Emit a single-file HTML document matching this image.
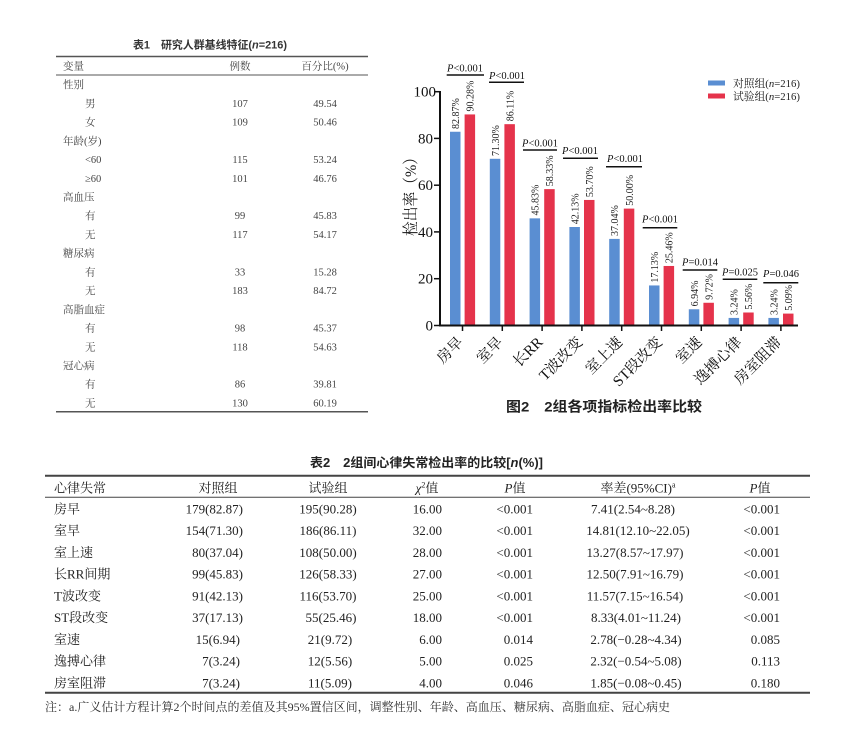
<!DOCTYPE html>
<html><head><meta charset="utf-8">
<style>
html,body{margin:0;padding:0;background:#fff;}
svg{display:block;}
.s{font-family:"Liberation Serif","Noto Serif CJK SC",serif;}
.h{font-family:"Liberation Sans","Noto Sans CJK SC",sans-serif;font-weight:bold;}
</style></head>
<body>
<svg width="861" height="755" viewBox="0 0 861 755" xmlns="http://www.w3.org/2000/svg">
<rect width="861" height="755" fill="#fff"/>

<!-- ========== TABLE 1 ========== -->
<text class="h" x="133" y="48.5" font-size="11" fill="#333" textLength="154" lengthAdjust="spacingAndGlyphs">表1　研究人群基线特征(<tspan font-style="italic">n</tspan>=216)</text>
<line x1="56" y1="56.5" x2="368" y2="56.5" stroke="#555" stroke-width="1.5"/>
<line x1="56" y1="75" x2="368" y2="75" stroke="#555" stroke-width="1"/>
<line x1="56" y1="411.7" x2="368" y2="411.7" stroke="#555" stroke-width="1.5"/>
<g class="s" font-size="10.5" fill="#444">
<text x="63" y="69.5">变量</text>
<text x="240" y="69.5" text-anchor="middle">例数</text>
<text x="325" y="69.5" text-anchor="middle">百分比(%)</text>

<text x="63" y="88.2">性别</text>
<text x="85" y="106.9">男</text><text x="240" y="106.9" text-anchor="middle">107</text><text x="325" y="106.9" text-anchor="middle">49.54</text>
<text x="85" y="125.6">女</text><text x="240" y="125.6" text-anchor="middle">109</text><text x="325" y="125.6" text-anchor="middle">50.46</text>
<text x="63" y="144.4">年龄(岁)</text>
<text x="85" y="163.1">&lt;60</text><text x="240" y="163.1" text-anchor="middle">115</text><text x="325" y="163.1" text-anchor="middle">53.24</text>
<text x="85" y="181.8">≥60</text><text x="240" y="181.8" text-anchor="middle">101</text><text x="325" y="181.8" text-anchor="middle">46.76</text>
<text x="63" y="200.5">高血压</text>
<text x="85" y="219.2">有</text><text x="240" y="219.2" text-anchor="middle">99</text><text x="325" y="219.2" text-anchor="middle">45.83</text>
<text x="85" y="238.0">无</text><text x="240" y="238.0" text-anchor="middle">117</text><text x="325" y="238.0" text-anchor="middle">54.17</text>
<text x="63" y="256.7">糖尿病</text>
<text x="85" y="275.4">有</text><text x="240" y="275.4" text-anchor="middle">33</text><text x="325" y="275.4" text-anchor="middle">15.28</text>
<text x="85" y="294.1">无</text><text x="240" y="294.1" text-anchor="middle">183</text><text x="325" y="294.1" text-anchor="middle">84.72</text>
<text x="63" y="312.8">高脂血症</text>
<text x="85" y="331.6">有</text><text x="240" y="331.6" text-anchor="middle">98</text><text x="325" y="331.6" text-anchor="middle">45.37</text>
<text x="85" y="350.3">无</text><text x="240" y="350.3" text-anchor="middle">118</text><text x="325" y="350.3" text-anchor="middle">54.63</text>
<text x="63" y="369.0">冠心病</text>
<text x="85" y="387.7">有</text><text x="240" y="387.7" text-anchor="middle">86</text><text x="325" y="387.7" text-anchor="middle">39.81</text>
<text x="85" y="406.4">无</text><text x="240" y="406.4" text-anchor="middle">130</text><text x="325" y="406.4" text-anchor="middle">60.19</text>
</g>

<!-- ========== CHART ========== -->
<!-- bars -->
<g fill="#5a8ed2">
<rect x="450" y="131.75" width="10.5" height="193.75"/>
<rect x="489.8" y="158.8" width="10.5" height="166.7"/>
<rect x="529.6" y="218.35" width="10.5" height="107.15"/>
<rect x="569.4" y="227.0" width="10.5" height="98.5"/>
<rect x="609.2" y="238.9" width="10.5" height="86.6"/>
<rect x="649.0" y="285.45" width="10.5" height="40.05"/>
<rect x="688.8" y="309.27" width="10.5" height="16.23"/>
<rect x="728.6" y="317.92" width="10.5" height="7.58"/>
<rect x="768.4" y="317.92" width="10.5" height="7.58"/>
</g>
<g fill="#e5334b">
<rect x="464.6" y="114.43" width="10.5" height="211.07"/>
<rect x="504.4" y="124.17" width="10.5" height="201.33"/>
<rect x="544.2" y="189.12" width="10.5" height="136.38"/>
<rect x="584.0" y="199.95" width="10.5" height="125.55"/>
<rect x="623.8" y="208.6" width="10.5" height="116.9"/>
<rect x="663.6" y="265.97" width="10.5" height="59.53"/>
<rect x="703.4" y="302.77" width="10.5" height="22.73"/>
<rect x="743.2" y="312.5" width="10.5" height="13.0"/>
<rect x="783.0" y="313.6" width="10.5" height="11.9"/>
</g>

<!-- value labels -->
<g class="s" font-size="10" fill="#222">
<text transform="translate(459,129) rotate(-90)">82.87%</text>
<text transform="translate(473.6,111.5) rotate(-90)">90.28%</text>
<text transform="translate(498.8,156) rotate(-90)">71.30%</text>
<text transform="translate(513.4,121.3) rotate(-90)">86.11%</text>
<text transform="translate(538.6,215.5) rotate(-90)">45.83%</text>
<text transform="translate(553.2,186.3) rotate(-90)">58.33%</text>
<text transform="translate(578.4,224.2) rotate(-90)">42.13%</text>
<text transform="translate(593.0,197.1) rotate(-90)">53.70%</text>
<text transform="translate(618.2,236) rotate(-90)">37.04%</text>
<text transform="translate(632.8,205.8) rotate(-90)">50.00%</text>
<text transform="translate(658.0,282.6) rotate(-90)">17.13%</text>
<text transform="translate(672.6,263.1) rotate(-90)">25.46%</text>
<text transform="translate(697.8,306.4) rotate(-90)">6.94%</text>
<text transform="translate(712.4,299.9) rotate(-90)">9.72%</text>
<text transform="translate(737.6,315) rotate(-90)">3.24%</text>
<text transform="translate(752.2,309.6) rotate(-90)">5.56%</text>
<text transform="translate(777.4,315) rotate(-90)">3.24%</text>
<text transform="translate(792.0,310.7) rotate(-90)">5.09%</text>
</g>

<!-- significance annotations -->
<g stroke="#111" stroke-width="1.5">
<line x1="446.7" y1="75" x2="484" y2="75"/>
<line x1="489" y1="82.3" x2="524" y2="82.3"/>
<line x1="523" y1="150" x2="557" y2="150"/>
<line x1="563" y1="158.3" x2="598" y2="158.3"/>
<line x1="606" y1="166.7" x2="642" y2="166.7"/>
<line x1="642.7" y1="227.7" x2="677.3" y2="227.7"/>
<line x1="682.7" y1="270" x2="717.3" y2="270"/>
<line x1="722.7" y1="279.3" x2="757.3" y2="279.3"/>
<line x1="763.3" y1="282.7" x2="798.3" y2="282.7"/>
</g>
<g class="s" font-size="10.5" fill="#111" text-anchor="middle">
<text x="465" y="71.5"><tspan font-style="italic">P</tspan>&lt;0.001</text>
<text x="507" y="79"><tspan font-style="italic">P</tspan>&lt;0.001</text>
<text x="540" y="146.5"><tspan font-style="italic">P</tspan>&lt;0.001</text>
<text x="580" y="154"><tspan font-style="italic">P</tspan>&lt;0.001</text>
<text x="625" y="162"><tspan font-style="italic">P</tspan>&lt;0.001</text>
<text x="660" y="222.5"><tspan font-style="italic">P</tspan>&lt;0.001</text>
<text x="700" y="265.5"><tspan font-style="italic">P</tspan>=0.014</text>
<text x="740" y="275.5"><tspan font-style="italic">P</tspan>=0.025</text>
<text x="781" y="277"><tspan font-style="italic">P</tspan>=0.046</text>
</g>

<!-- axes -->
<line x1="440" y1="91" x2="440" y2="326.5" stroke="#111" stroke-width="2"/>
<line x1="439" y1="325.5" x2="798" y2="325.5" stroke="#111" stroke-width="2"/>
<g stroke="#111" stroke-width="1.5">
<line x1="434" y1="325.5" x2="440" y2="325.5"/>
<line x1="434" y1="278.7" x2="440" y2="278.7"/>
<line x1="434" y1="231.9" x2="440" y2="231.9"/>
<line x1="434" y1="185.2" x2="440" y2="185.2"/>
<line x1="434" y1="138.4" x2="440" y2="138.4"/>
<line x1="434" y1="91.7" x2="440" y2="91.7"/>
<line x1="462.5" y1="325.5" x2="462.5" y2="331"/>
<line x1="502.3" y1="325.5" x2="502.3" y2="331"/>
<line x1="542.1" y1="325.5" x2="542.1" y2="331"/>
<line x1="581.9" y1="325.5" x2="581.9" y2="331"/>
<line x1="621.7" y1="325.5" x2="621.7" y2="331"/>
<line x1="661.5" y1="325.5" x2="661.5" y2="331"/>
<line x1="701.3" y1="325.5" x2="701.3" y2="331"/>
<line x1="741.1" y1="325.5" x2="741.1" y2="331"/>
<line x1="780.9" y1="325.5" x2="780.9" y2="331"/>
</g>
<g class="s" font-size="15" fill="#111" text-anchor="end">
<text x="433" y="330.5">0</text>
<text x="433" y="283.7">20</text>
<text x="433" y="236.9">40</text>
<text x="433" y="190.2">60</text>
<text x="433" y="143.4">80</text>
<text x="436" y="96.7">100</text>
</g>
<text class="s" font-size="16" fill="#111" text-anchor="middle" transform="translate(416,193) rotate(-90)" textLength="86" lengthAdjust="spacingAndGlyphs">检出率（%）</text>

<!-- x labels -->
<g class="s" font-size="15" fill="#111" text-anchor="end">
<text transform="translate(464,343) rotate(-45)">房早</text>
<text transform="translate(503.8,343) rotate(-45)">室早</text>
<text transform="translate(543.6,343) rotate(-45)">长RR</text>
<text transform="translate(583.4,343) rotate(-45)">T波改变</text>
<text transform="translate(623.2,343) rotate(-45)">室上速</text>
<text transform="translate(663,343) rotate(-45)">ST段改变</text>
<text transform="translate(702.8,343) rotate(-45)">室速</text>
<text transform="translate(742.6,343) rotate(-45)">逸搏心律</text>
<text transform="translate(782.4,343) rotate(-45)">房室阻滞</text>
</g>

<!-- legend -->
<rect x="708" y="80.5" width="17" height="5" fill="#5a8ed2"/>
<rect x="708" y="93.5" width="17" height="5" fill="#e5334b"/>
<g class="s" font-size="11" fill="#222">
<text x="733" y="87" textLength="67" lengthAdjust="spacingAndGlyphs">对照组(<tspan font-style="italic">n</tspan>=216)</text>
<text x="733" y="100" textLength="67" lengthAdjust="spacingAndGlyphs">试验组(<tspan font-style="italic">n</tspan>=216)</text>
</g>

<text class="h" x="506" y="411.5" font-size="14" fill="#222" textLength="196" lengthAdjust="spacingAndGlyphs">图2　2组各项指标检出率比较</text>

<!-- ========== TABLE 2 ========== -->
<text class="h" x="310" y="467" font-size="12.5" fill="#222" textLength="233" lengthAdjust="spacingAndGlyphs">表2　2组间心律失常检出率的比较[<tspan font-style="italic">n</tspan>(%)]</text>
<line x1="45" y1="475.7" x2="810" y2="475.7" stroke="#444" stroke-width="2"/>
<line x1="45" y1="497.3" x2="810" y2="497.3" stroke="#444" stroke-width="1"/>
<line x1="45" y1="692.7" x2="810" y2="692.7" stroke="#444" stroke-width="2"/>

<g class="s" font-size="13" fill="#222">
<text x="54" y="492.5">心律失常</text>
<text x="218" y="492.5" text-anchor="middle">对照组</text>
<text x="328" y="492.5" text-anchor="middle">试验组</text>
<text x="427" y="492.5" text-anchor="middle"><tspan font-style="italic">χ</tspan><tspan font-size="8" dy="-5">2</tspan><tspan dy="5">值</tspan></text>
<text x="515" y="492.5" text-anchor="middle"><tspan font-style="italic">P</tspan>值</text>
<text x="638" y="492.5" text-anchor="middle">率差(95%CI)<tspan font-size="8" dy="-5">a</tspan></text>
<text x="760" y="492.5" text-anchor="middle"><tspan font-style="italic">P</tspan>值</text>
</g>

<g class="s" font-size="13" fill="#222">
<!-- col 1 -->
<text x="54" y="513.5">房早</text>
<text x="54" y="535.2">室早</text>
<text x="54" y="557">室上速</text>
<text x="54" y="578.7">长RR间期</text>
<text x="54" y="600.5">T波改变</text>
<text x="54" y="622.2">ST段改变</text>
<text x="54" y="644">室速</text>
<text x="54" y="665.7">逸搏心律</text>
<text x="54" y="687.5">房室阻滞</text>
</g>
<g class="s" font-size="13" fill="#222" text-anchor="end">
<text x="243" y="513.5">179(82.87)</text>
<text x="243" y="535.2">154(71.30)</text>
<text x="243" y="557">80(37.04)</text>
<text x="243" y="578.7">99(45.83)</text>
<text x="243" y="600.5">91(42.13)</text>
<text x="243" y="622.2">37(17.13)</text>
<text x="240" y="644">15(6.94)</text>
<text x="240" y="665.7">7(3.24)</text>
<text x="240" y="687.5">7(3.24)</text>
</g>
<g class="s" font-size="13" fill="#222" text-anchor="middle">
<text x="328" y="513.5">195(90.28)</text>
<text x="328" y="535.2">186(86.11)</text>
<text x="328" y="557">108(50.00)</text>
<text x="328" y="578.7">126(58.33)</text>
<text x="328" y="600.5">116(53.70)</text>
<text x="331" y="622.2">55(25.46)</text>
<text x="330" y="644">21(9.72)</text>
<text x="330" y="665.7">12(5.56)</text>
<text x="330" y="687.5">11(5.09)</text>
</g>
<g class="s" font-size="13" fill="#222" text-anchor="end">
<text x="442" y="513.5">16.00</text>
<text x="442" y="535.2">32.00</text>
<text x="442" y="557">28.00</text>
<text x="442" y="578.7">27.00</text>
<text x="442" y="600.5">25.00</text>
<text x="442" y="622.2">18.00</text>
<text x="442" y="644">6.00</text>
<text x="442" y="665.7">5.00</text>
<text x="442" y="687.5">4.00</text>

<text x="533" y="513.5">&lt;0.001</text>
<text x="533" y="535.2">&lt;0.001</text>
<text x="533" y="557">&lt;0.001</text>
<text x="533" y="578.7">&lt;0.001</text>
<text x="533" y="600.5">&lt;0.001</text>
<text x="533" y="622.2">&lt;0.001</text>
<text x="533" y="644">0.014</text>
<text x="533" y="665.7">0.025</text>
<text x="533" y="687.5">0.046</text>

<text x="780" y="513.5">&lt;0.001</text>
<text x="780" y="535.2">&lt;0.001</text>
<text x="780" y="557">&lt;0.001</text>
<text x="780" y="578.7">&lt;0.001</text>
<text x="780" y="600.5">&lt;0.001</text>
<text x="780" y="622.2">&lt;0.001</text>
<text x="780" y="644">0.085</text>
<text x="780" y="665.7">0.113</text>
<text x="780" y="687.5">0.180</text>
</g>
<g class="s" font-size="13" fill="#222" text-anchor="middle">
<text x="633" y="513.5">7.41(2.54~8.28)</text>
<text x="638" y="535.2">14.81(12.10~22.05)</text>
<text x="635" y="557">13.27(8.57~17.97)</text>
<text x="635" y="578.7">12.50(7.91~16.79)</text>
<text x="635" y="600.5">11.57(7.15~16.54)</text>
<text x="636" y="622.2">8.33(4.01~11.24)</text>
<text x="636" y="644">2.78(−0.28~4.34)</text>
<text x="636" y="665.7">2.32(−0.54~5.08)</text>
<text x="636" y="687.5">1.85(−0.08~0.45)</text>
</g>

<text class="s" x="45" y="711" font-size="12" fill="#333" textLength="625" lengthAdjust="spacingAndGlyphs">注：a.广义估计方程计算2个时间点的差值及其95%置信区间，调整性别、年龄、高血压、糖尿病、高脂血症、冠心病史</text>
</svg>
</body></html>
